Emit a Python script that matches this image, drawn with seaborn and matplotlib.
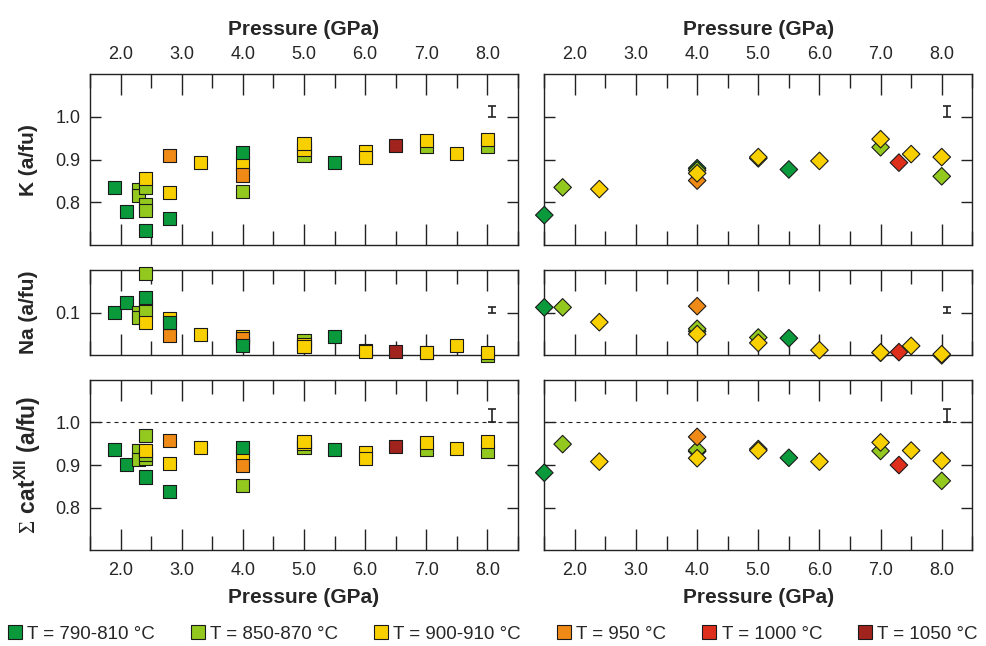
import matplotlib
matplotlib.use("Agg")
import matplotlib.pyplot as plt
import seaborn as sns
import pandas as pd
from matplotlib.lines import Line2D
from matplotlib.ticker import FixedLocator, MultipleLocator, FormatStrFormatter

# ---------------- data ----------------
temp_labels = ["T = 790-810 °C", "T = 850-870 °C", "T = 900-910 °C",
               "T = 950 °C", "T = 1000 °C", "T = 1050 °C"]
temp_colors = ["#0a9a3c", "#93c81f", "#f8d000", "#ef8a16", "#de2f1c", "#a1231d"]

# left column (squares)
sq_pressure = [1.9, 2.1, 2.3, 2.3, 2.4, 2.4, 2.4, 2.4, 2.4, 2.8, 2.8, 2.8, 3.3,
               4.0, 4.0, 4.0, 4.0, 5.0, 5.0, 5.0, 5.5, 6.0, 6.0, 6.5,
               7.0, 7.0, 7.5, 8.0, 8.0]
sq_temp = [0, 0, 1, 1, 1, 1, 1, 2, 0, 3, 2, 0, 2,
           1, 2, 3, 0, 1, 2, 2, 0, 2, 2, 5,
           1, 2, 2, 1, 2]
sq_K = [0.835, 0.778, 0.831, 0.815, 0.834, 0.795, 0.780, 0.856, 0.734, 0.909, 0.823, 0.763, 0.893,
        0.825, 0.890, 0.864, 0.916, 0.909, 0.924, 0.937, 0.893, 0.918, 0.906, 0.933,
        0.930, 0.946, 0.915, 0.932, 0.948]
sq_Na = [0.100, 0.112, 0.100, 0.094, 0.145, 0.1085, 0.101, 0.088, 0.118, 0.0735, 0.093, 0.088, 0.0747,
         0.064, 0.072, 0.070, 0.062, 0.0676, 0.0626, 0.060, 0.072, 0.056, 0.055, 0.055,
         0.053, 0.0536, 0.0614, 0.050, 0.0536]
sq_cat = [0.937, 0.901, 0.933, 0.912, 0.970, 0.916, 0.925, 0.933, 0.872, 0.958, 0.904, 0.839, 0.942,
          0.852, 0.921, 0.899, 0.940, 0.940, 0.950, 0.955, 0.937, 0.930, 0.915, 0.943,
          0.937, 0.953, 0.938, 0.931, 0.956]

# right column (diamonds)
di_pressure = [1.5, 1.8, 2.4, 4.0, 4.0, 4.0, 4.0, 5.0, 5.0, 5.5, 6.0,
               7.0, 7.0, 7.3, 7.5, 8.0, 8.0]
di_temp = [0, 1, 2, 0, 1, 3, 2, 1, 2, 0, 2,
           1, 2, 4, 2, 1, 2]
di_K = [0.770, 0.835, 0.831, 0.880, 0.875, 0.851, 0.868, 0.903, 0.906, 0.877, 0.897,
        0.929, 0.948, 0.893, 0.913, 0.861, 0.906]
di_Na = [0.106, 0.106, 0.0887, 0.078, 0.081, 0.1074, 0.0747, 0.0708, 0.0645, 0.070, 0.056,
         0.053, 0.0533, 0.0537, 0.061, 0.050, 0.0513]
di_cat = [0.882, 0.949, 0.908, 0.932, 0.935, 0.966, 0.916, 0.9375, 0.934, 0.917, 0.908,
          0.933, 0.953, 0.900, 0.934, 0.863, 0.910]

# analytical uncertainty bars (K, Na, sum cat)
err_pressure = 8.08
err_values = [1.0125, 0.103, 1.0155]
err_sizes = [0.013, 0.0035, 0.0155]

pressure_ticks = [2.0, 3.0, 4.0, 5.0, 6.0, 7.0, 8.0]

# ---------------- style ----------------
sns.set_theme(style="white")
plt.rcParams["font.family"] = ["Liberation Sans", "DejaVu Sans"]
plt.rcParams["mathtext.fontset"] = "custom"
plt.rcParams["mathtext.rm"] = "Liberation Serif"
plt.rcParams["mathtext.bf"] = "Liberation Sans:bold"
plt.rcParams["axes.edgecolor"] = "#222222"
plt.rcParams["axes.linewidth"] = 1.0

df_sq = pd.DataFrame({"P": sq_pressure, "T": [temp_labels[i] for i in sq_temp],
                      "K": sq_K, "Na": sq_Na, "cat": sq_cat})
df_di = pd.DataFrame({"P": di_pressure, "T": [temp_labels[i] for i in di_temp],
                      "K": di_K, "Na": di_Na, "cat": di_cat})
palette = dict(zip(temp_labels, temp_colors))

fig = plt.figure(figsize=(9.87, 6.46), dpi=100)
W, H = 987.0, 646.0
col_x = [90.0, 544.3]
col_w = 428.0
rows = [  # (var, top_px, bottom_px, ylim, yticks, ylabel, label size)
    ("K", 74.3, 245.0, (0.7, 1.1), [0.8, 0.9, 1.0], "K (a/fu)", 15),
    ("Na", 269.7, 355.3, (0.05, 0.15), [0.1], "Na (a/fu)", 15),
    ("cat", 379.7, 550.4, (0.7, 1.1), [0.8, 0.9, 1.0],
     r"$\mathrm{\Sigma}\ \mathbf{cat^{XII}\ (a/fu)}$", 16.5),
]
cols = [(df_sq, "s", 88), (df_di, "D", 80)]

for ci, (df, mk, msize) in enumerate(cols):
    for ri, (var, top, bot, ylim, yticks, ylab, lsize) in enumerate(rows):
        ax = fig.add_axes([col_x[ci] / W, 1 - bot / H, col_w / W, (bot - top) / H])
        sns.scatterplot(data=df, x="P", y=var, hue="T", hue_order=temp_labels,
                        palette=palette, marker=mk, s=msize, edgecolor="#1a1a1a",
                        linewidth=0.8, legend=False, ax=ax, zorder=3)
        for coll in ax.collections:
            coll.set_clip_on(False)
        ax.errorbar([err_pressure], [err_values[ri]], yerr=[err_sizes[ri]],
                    fmt="none", ecolor="#222222", elinewidth=1.2, capsize=3,
                    capthick=1.2, zorder=4)
        if var == "cat":
            ax.axhline(1.0, color="#222222", lw=0.8, ls=(0, (3.6, 3.6)), zorder=1)
        ax.set_xlim(1.5, 8.5)
        ax.set_ylim(*ylim)
        ax.xaxis.set_major_locator(FixedLocator(pressure_ticks))
        ax.xaxis.set_minor_locator(MultipleLocator(0.5))
        ax.xaxis.set_major_formatter(FormatStrFormatter("%.1f"))
        ax.yaxis.set_major_locator(FixedLocator(yticks))
        ax.yaxis.set_major_formatter(FormatStrFormatter("%.1f"))
        ax.tick_params(axis="x", which="major", direction="in", length=15, width=1.0,
                       color="#222222", top=True, bottom=True,
                       labeltop=(ri == 0), labelbottom=(ri == 2), labelsize=13, pad=8)
        ax.tick_params(axis="x", which="minor", direction="in", length=10, width=1.0,
                       color="#222222", top=True, bottom=True)
        ax.tick_params(axis="y", which="major", direction="in", length=8, width=1.0,
                       color="#222222", left=True, right=True,
                       labelleft=(ci == 0), labelsize=13, pad=7)
        ax.set_xlabel("")
        ax.set_ylabel("")
        if ci == 0:
            ax.set_ylabel(ylab, fontsize=lsize, fontweight="bold", va="center")
            ax.yaxis.set_label_coords(-62.0 / col_w, 0.5)
        if ri == 0:
            ax.xaxis.set_label_position("top")
            ax.set_xlabel("Pressure (GPa)", fontsize=15, fontweight="bold", labelpad=8)
        elif ri == 2:
            ax.set_xlabel("Pressure (GPa)", fontsize=15, fontweight="bold", labelpad=7)
        for sp in ax.spines.values():
            sp.set_visible(True)
            sp.set_color("#222222")
            sp.set_linewidth(1.0)
            sp.set_zorder(2)

handles = [Line2D([], [], marker="s", ls="", markersize=9.5, markerfacecolor=c,
                  markeredgecolor="#1a1a1a", markeredgewidth=0.8) for c in temp_colors]
fig.legend(handles, temp_labels, loc="center", bbox_to_anchor=(8 / W, 0.0, 970 / W, 0.037),
           mode="expand", ncol=6, frameon=False, fontsize=13.5, handlelength=0.7,
           handletextpad=0.3, borderaxespad=0, borderpad=0, columnspacing=1.0)

fig.savefig("out.png", dpi=100)
